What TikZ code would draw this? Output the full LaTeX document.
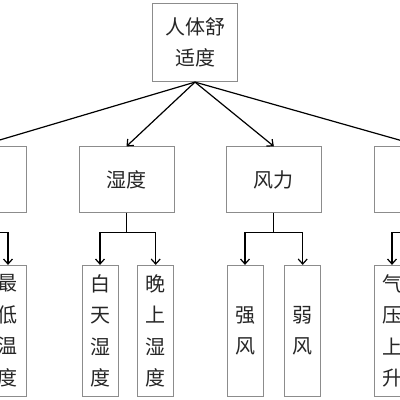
\documentclass[tikz,border=0pt]{standalone}
\usepackage{fontspec}
\setmainfont{Noto Sans CJK SC}
\usetikzlibrary{arrows.meta}
\begin{document}
\begin{tikzpicture}[x=1pt,y=-1pt,
  box/.style={draw=black!45, line width=0.8pt, inner sep=0pt, align=center,
     font=\fontsize{20}{31.5}\selectfont, text=black!85},
  topbox/.style={box, minimum width=84.6pt, minimum height=78.4pt},
  midbox/.style={box, minimum width=95pt, minimum height=65.6pt},
  leafbox/.style={box, minimum width=36pt, minimum height=131pt},
  conn/.style={line width=1.2pt, -{Straight Barb[length=5pt,width=9pt,line width=1.2pt]}},
  bar/.style={line width=1.2pt}]
\useasboundingbox (0,0) rectangle (400,400);
\clip (0,0) rectangle (400,400);
\fill[white] (0,0) rectangle (400,400);
% top
\node[topbox] (top) at (195,42.5) {人体舒\\适度};
% middle level
\node[midbox] (temp) at (-21.5,179.5) {温度};
\node[midbox] (hum) at (126.5,179.5) {湿度};
\node[midbox] (wind) at (273.85,179.5) {风力};
\node[midbox] (pres) at (421.5,179.5) {气压};
% leaves
\node[leafbox] (tlow) at (8,330.8) {最\\低\\温\\度};
\node[leafbox] (hday) at (100,330.8) {白\\天\\湿\\度};
\node[leafbox] (hnight) at (155.7,330.8) {晚\\上\\湿\\度};
\node[leafbox] (wstrong) at (245,330.8) {强\\风};
\node[leafbox] (wweak) at (302.7,330.8) {弱\\风};
\node[leafbox] (pup) at (392,330.8) {气\\压\\上\\升};
\coordinate (tother) at (-51,265);
\coordinate (pother) at (451,265);
% top connectors
\draw[conn] (top.south) -- (temp.north);
\draw[conn] (top.south) -- (hum.north);
\draw[conn] (top.south) -- (wind.north);
\draw[conn] (top.south) -- (pres.north);
% branch connectors
\draw[bar] (temp.south) -- ++(0,20);
\draw[conn] (temp.south) ++(0,20) -| (tlow.north);
\draw[conn] (temp.south) ++(0,20) -| (tother);
\draw[bar] (hum.south) -- ++(0,20);
\draw[conn] (hum.south) ++(0,20) -| (hday.north);
\draw[conn] (hum.south) ++(0,20) -| (hnight.north);
\draw[bar] (wind.south) -- ++(0,20);
\draw[conn] (wind.south) ++(0,20) -| (wstrong.north);
\draw[conn] (wind.south) ++(0,20) -| (wweak.north);
\draw[bar] (pres.south) -- ++(0,20);
\draw[conn] (pres.south) ++(0,20) -| (pup.north);
\draw[conn] (pres.south) ++(0,20) -| (pother);
\end{tikzpicture}
\end{document}
